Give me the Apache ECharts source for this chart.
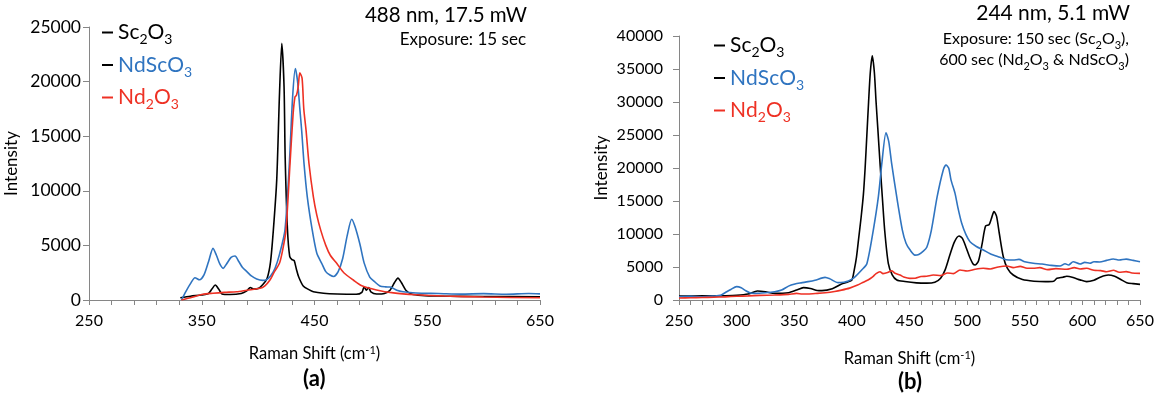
<!DOCTYPE html>
<html><head><meta charset="utf-8">
<script src="https://cdn.jsdelivr.net/npm/echarts@6/dist/echarts.min.js"></script>
<style>html,body{margin:0;padding:0;background:#fff}#c{width:1159px;height:398px}</style>
</head><body><div id="c"></div>
<script>
// ---- data ----
const seriesNames = ['Sc2O3', 'NdScO3', 'Nd2O3'];

// (a) 488 nm
const a_Sc2O3 = [[331,200],[340,350],[350,460],[356,600],[359,1000],[362,1370],[365,1000],[368,560],[375,500],[385,600],[390,850],[393,1150],[396,1000],[400,1050],[404,1400],[408,2000],[411,3500],[413.5,6400],[416.5,11000],[419,19000],[421,23500],[423,19500],[424,13000],[426,6500],[428,4000],[430,3700],[432,3600],[434,2800],[436,2100],[440,1280],[445,950],[449,760],[458,620],[470,550],[487,520],[492,700],[494,1200],[496,900],[498,1150],[500,750],[505,550],[512,600],[517,900],[521,1600],[524,2000],[527,1600],[531,900],[536,550],[545,420],[560,360],[600,320],[650,300]];
const a_NdScO3 = [[332,0],[336,800],[340,1500],[344,2040],[348,1850],[352,2300],[356,3500],[360,4730],[363,4100],[366,3300],[369,2900],[372,3300],[376,3900],[379.5,4030],[383,3500],[386,3000],[390,2600],[394,2200],[398.7,1920],[404,1800],[407,1830],[411,2200],[415,2900],[419,4200],[423.8,6400],[427.7,12500],[430.6,18600],[433,21200],[435,20000],[437,17500],[438.6,15550],[440.7,12500],[443.6,9450],[448,6400],[452,4300],[456.4,3360],[460,2600],[463.7,2290],[467,2150],[471,2600],[475,3800],[479,5900],[483,7400],[486,6700],[490.3,5100],[494,3400],[499,2100],[503,1700],[508,1280],[513,1200],[517,1190],[523,900],[528.5,760],[540,640],[560,600],[580,540],[600,580],[620,530],[640,600],[650,560]];
const a_Nd2O3 = [[332,0],[340,200],[351,520],[360,620],[370,700],[381,760],[390,900],[401.7,1070],[406,1300],[410.5,1830],[414,2500],[419,3380],[422,4700],[424.7,6400],[428.3,12500],[431,17000],[432.7,18600],[434,18750],[435.5,19500],[437,20800],[439,20300],[440.5,17500],[442.5,15550],[445.1,12500],[449,9450],[452,7800],[455.5,6400],[460,5000],[464,4100],[469.7,3360],[476,2500],[484.4,1830],[492,1300],[505,915],[520,650],[540,480],[565,360],[600,270],[650,200]];

// (b) 244 nm
const b_Sc2O3 = [[250,600],[270,620],[290,650],[300,700],[310,900],[318,1360],[325,1250],[333,1000],[345,1100],[352,1500],[358,1870],[364,1750],[370,1450],[374,1420],[383,1700],[391,2420],[396,2700],[400,3030],[402,4500],[404,6500],[406,9500],[408,12500],[410,16000],[411.5,20000],[413,25000],[414.5,30000],[416,34500],[417.7,37000],[419.5,34500],[421,30000],[422.5,26000],[424.5,20500],[426.4,15650],[428.5,10500],[431.6,5560],[435,3800],[439,3030],[446,2800],[456,2600],[465,2550],[472,2700],[477,3300],[481,4600],[485,6800],[489,8800],[493,9700],[496,9300],[499,8000],[502,6600],[505,5500],[507,5300],[510,6000],[513,8500],[516,11200],[519,11400],[521,12300],[523.3,13400],[525.5,12700],[528,10000],[531.4,6560],[535,4800],[540,3790],[548,3100],[558,2850],[568,2780],[575,2850],[578,3280],[583,3450],[586.4,3590],[592,3400],[598,3050],[603.7,2780],[610,3000],[616,3500],[622.5,3790],[628,3600],[633,3150],[638.5,2630],[644,2480],[650,2370]];
const b_NdScO3 = [[250,500],[260,550],[270,500],[280,600],[286,700],[290,1100],[295,1600],[300,2020],[304,1850],[308,1400],[312,1050],[316,1010],[325,1100],[333,1250],[339,1500],[345,2100],[350.6,2420],[356,2600],[362,2780],[368,3000],[376.7,3430],[381,3200],[388,2630],[393,2700],[397,2880],[402,3400],[408.5,4550],[413,5500],[418.6,10600],[423,15650],[426,20700],[429.6,25350],[432,24000],[434.5,20700],[438.9,15650],[443.8,10600],[447,8600],[450.4,7600],[454.7,6800],[458,6900],[462,7400],[465,8000],[469,10600],[474,15650],[479.3,19700],[481.7,20450],[484,20000],[486,18200],[489.5,16160],[492,14000],[495.3,11620],[499,9900],[502.5,8830],[508,8100],[514,7580],[520,7000],[528.5,6460],[534,6100],[540,6060],[545,6150],[550,5800],[557.4,5560],[565,5450],[573,5250],[580.6,5150],[585,5500],[588,5300],[592,5800],[598,5450],[602,5700],[606.6,5560],[610,5800],[615,5750],[621,6000],[626.8,6210],[632,6050],[638,6200],[644,6000],[650,5800]];
const b_Nd2O3 = [[250,300],[260,350],[270,380],[280,420],[290,480],[300,560],[310,620],[320,700],[333,760],[345,850],[352,1000],[357,900],[362,900],[370,1000],[377,1110],[385,1300],[391,1500],[398,1800],[405,2270],[410,2700],[414,3030],[418,3500],[421,4000],[424.4,4290],[427,4000],[431,4150],[434.5,4440],[437,4100],[441.8,3790],[445,3500],[450.4,3280],[455,3300],[460,3550],[465,3600],[470.6,3790],[477,3700],[483,4100],[488,4000],[493.8,4550],[500,4400],[507,4650],[514,4800],[520,4700],[527,5000],[534.3,5150],[540,4900],[546,5100],[552,4800],[557.4,4800],[563,4900],[570,4600],[577,4750],[586.4,4650],[593,4900],[598,4700],[603.7,4800],[610,4500],[616,4450],[621,4290],[627,4500],[632,4200],[638,4300],[643,4100],[650,4040]];

// ---- presentation ----
const FONT = "Lato, 'Noto Sans', sans-serif";
const AXIS = '#868686';
const COLORS = {Sc2O3: '#000000', NdScO3: '#2f74c0', Nd2O3: '#ee3124'};
const LEGEND_TEXT = {Sc2O3: '#000000', NdScO3: '#2f74c0', Nd2O3: '#ee3124'};
const LEGEND_ICON = {Sc2O3: '#000000', NdScO3: '#000000', Nd2O3: '#ee3124'};

function chem(s) {
  return s.split('').map(c => /\d/.test(c) ? '{s|' + c + '}' : '{n|' + c + '}').join('');
}
const richChem = (size, sub, lh) => ({
  n: {fontSize: size, fontFamily: FONT, lineHeight: lh},
  s: {fontSize: sub, fontFamily: FONT, lineHeight: sub, verticalAlign: 'bottom', padding: [0, 0, -3, 0]}
});

const chart = echarts.init(document.getElementById('c'), null, {renderer: 'canvas'});

function xAxisDef(gridIndex, interval, minorSplit, fs) {
  return {
    type: 'value', gridIndex, min: 250, max: 650, interval,
    axisLine: {show: true, lineStyle: {color: AXIS, width: 1}},
    axisTick: {show: true, length: 5, lineStyle: {color: AXIS}},
    minorTick: {show: true, splitNumber: minorSplit, length: 5, lineStyle: {color: AXIS}},
    splitLine: {show: false},
    axisLabel: {color: '#000', fontSize: fs, fontFamily: FONT, margin: 13, formatter: v => String(v)},
    name: '{n|Raman Shift (cm}{p|-1}{n|)}',
    nameLocation: 'middle', nameGap: gridIndex === 0 ? 45 : 50,
    nameTextStyle: {
      rich: {
        n: {fontSize: 16.5, fontFamily: FONT, color: '#000'},
        p: {fontSize: 11, fontFamily: FONT, color: '#000', verticalAlign: 'top', lineHeight: 11}
      }
    }
  };
}
function yAxisDef(gridIndex, max, margin, fs) {
  return {
    type: 'value', gridIndex, min: 0, max, interval: 5000,
    axisLine: {show: true, lineStyle: {color: AXIS, width: 1}},
    axisTick: {show: true, length: 6, lineStyle: {color: AXIS}},
    splitLine: {show: false},
    axisLabel: {color: '#000', fontSize: fs, fontFamily: FONT, margin, formatter: v => String(v)},
    name: 'Intensity', nameLocation: 'middle', nameGap: 69,
    nameTextStyle: {fontSize: 17, fontFamily: FONT, color: '#000'}
  };
}
function lineSeries(name, data, xi) {
  return {
    type: 'line', name, data, xAxisIndex: xi, yAxisIndex: xi,
    showSymbol: false, smooth: 0.25, animation: false,
    lineStyle: {width: 1.6, color: COLORS[name]}, itemStyle: {color: COLORS[name]}
  };
}
function legendDef(left, top) {
  return {
    orient: 'vertical', left, top, icon: 'rect', itemWidth: 11, itemHeight: 2,
    itemGap: 8, selectedMode: false,
    formatter: name => chem(name),
    textStyle: {fontSize: 21, fontFamily: FONT, rich: richChem(21, 14, 22)},
    data: seriesNames.map(n => ({name: n, itemStyle: {color: LEGEND_ICON[n]}, lineStyle: {color: LEGEND_ICON[n]},
      textStyle: {color: LEGEND_TEXT[n]}}))
  };
}

const option = {
  backgroundColor: '#fff',
  animation: false,
  grid: [
    {left: 89, top: 27, width: 451, height: 273},
    {left: 679, top: 36, width: 461, height: 264}
  ],
  xAxis: [xAxisDef(0, 100, 5, 16), xAxisDef(1, 50, 5, 16)],
  yAxis: [yAxisDef(0, 25000, 8, 17.5), yAxisDef(1, 40000, 16, 16)],
  legend: [legendDef(97, 17), legendDef(709, 30)],
  series: [
    lineSeries('Sc2O3', a_Sc2O3, 0),
    lineSeries('NdScO3', a_NdScO3, 0),
    lineSeries('Nd2O3', a_Nd2O3, 0),
    lineSeries('Sc2O3', b_Sc2O3, 1),
    lineSeries('NdScO3', b_NdScO3, 1),
    lineSeries('Nd2O3', b_Nd2O3, 1)
  ],
  graphic: [
    {type: 'text', right: 1159 - 527, top: 5, style: {text: '488 nm, 17.5 mW', fontSize: 20.5, fontFamily: FONT, fill: '#000'}},
    {type: 'text', right: 1159 - 526, top: 31, style: {text: 'Exposure: 15 sec', fontSize: 17, fontFamily: FONT, fill: '#000'}},
    {type: 'text', right: 1159 - 1130, top: 3, style: {text: '244 nm, 5.1 mW', fontSize: 21, fontFamily: FONT, fill: '#000'}},
    {type: 'text', right: 1159 - 1129, top: 31, style: {text: '{n|Exposure: 150 sec (Sc}{s|2}{n|O}{s|3}{n|),}', rich: richChem(16, 11, 18), fill: '#000'}},
    {type: 'text', right: 1159 - 1129, top: 52, style: {text: '{n|600 sec (Nd}{s|2}{n|O}{s|3}{n| & NdScO}{s|3}{n|)}', rich: richChem(16, 11, 18), fill: '#000'}},
    {type: 'text', left: 303, top: 368, style: {text: '(a)', fontSize: 22, fontWeight: 'bold', fontFamily: FONT, fill: '#000'}},
    {type: 'text', left: 898, top: 371, style: {text: '(b)', fontSize: 22, fontWeight: 'bold', fontFamily: FONT, fill: '#000'}}
  ]
};
chart.setOption(option);
</script>
</body></html>
